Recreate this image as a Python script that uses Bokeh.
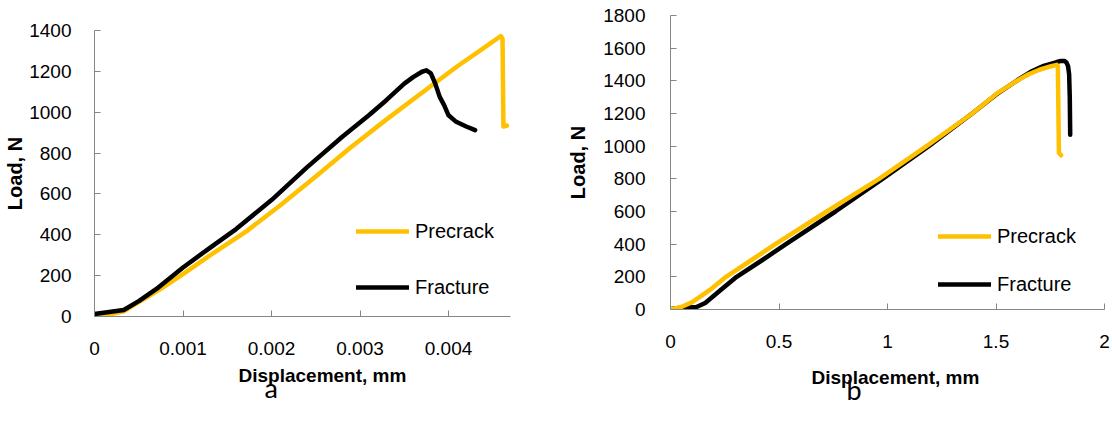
from bokeh.plotting import figure
from bokeh.layouts import row, column
from bokeh.models import (Range1d, FixedTicker, CustomJSTickFormatter, Legend,
                          LegendItem, Title, Spacer)
from bokeh.embed import file_html
from bokeh.resources import INLINE

# ---- Panel a: load vs displacement ----
a_precrack_disp = [0, 0.00015, 0.00033, 0.0005, 0.00074, 0.0010, 0.0013, 0.00172,
                   0.0021, 0.0025, 0.00289, 0.0033, 0.0037, 0.0041, 0.0044,
                   0.00459, 0.00461, 0.00462, 0.00466]
a_precrack_load = [0, 8, 25, 70, 133, 208, 298, 418,
                   545, 685, 826, 965, 1095, 1225, 1315,
                   1373, 1360, 930, 935]
a_fracture_disp = [0, 0.00033, 0.0005, 0.0007, 0.0010, 0.0013, 0.0016, 0.0020,
                   0.0024, 0.0028, 0.0031, 0.0033, 0.0035, 0.0036, 0.0037,
                   0.00375, 0.0038, 0.00385, 0.0039, 0.00395, 0.0040, 0.00408,
                   0.0042, 0.0043]
a_fracture_load = [12, 32, 75, 135, 240, 335, 428, 570,
                   730, 880, 985, 1060, 1140, 1172, 1198,
                   1205, 1190, 1140, 1075, 1035, 985, 955,
                   930, 912]
a_x_ticks = [0, 0.001, 0.002, 0.003, 0.004]
a_y_ticks = [0, 200, 400, 600, 800, 1000, 1200, 1400]

# ---- Panel b: load vs displacement ----
b_precrack_disp = [0, 0.05, 0.10, 0.18, 0.256, 0.37, 0.483, 0.72, 0.961, 1.18,
                   1.39, 1.50, 1.59, 1.65, 1.70, 1.75, 1.78, 1.785, 1.79, 1.80]
b_precrack_load = [0, 15, 45, 118, 200, 300, 400, 600, 800, 1000,
                   1200, 1318, 1395, 1440, 1468, 1488, 1498, 1490, 958, 944]
b_fracture_disp = [0.005, 0.03, 0.06, 0.12, 0.16, 0.23, 0.305, 0.42, 0.532, 0.76,
                   0.977, 1.19, 1.39, 1.50, 1.60, 1.66, 1.72, 1.78, 1.80, 1.815,
                   1.825, 1.832, 1.837, 1.84, 1.842]
b_fracture_load = [3, 8, 12, 15, 40, 118, 200, 300, 400, 600,
                   800, 1000, 1200, 1315, 1405, 1455, 1492, 1515, 1522, 1522,
                   1512, 1490, 1440, 1300, 1070]
b_x_ticks = [0, 0.5, 1, 1.5, 2]
b_y_ticks = [0, 200, 400, 600, 800, 1000, 1200, 1400, 1600, 1800]

GOLD = "#FFC000"
BLACK = "#000000"
AXIS_GREY = "#868686"
FONT = "Liberation Sans"

fmt = CustomJSTickFormatter(code="return String(Math.round(tick * 1e6) / 1e6);")


def make_panel(xp, yp, xf, yf, xticks, yticks, xmax, ymax, borders, frame,
               ystand, ytitle_stand, xtitle_offset, xtitle_standoff,
               tag_offset, tag_standoff,
               legend_loc, legend_spacing, tag, fracture_on_top):
    left, right, top, bottom = borders
    fw, fh = frame
    p = figure(width=left + fw + right, height=top + fh + bottom,
               frame_width=fw, frame_height=fh,
               x_range=Range1d(0, xmax), y_range=Range1d(0, ymax),
               output_backend="svg", toolbar_location=None,
               min_border_left=left, min_border_right=right,
               min_border_top=top, min_border_bottom=bottom)
    p.outline_line_color = None
    p.xgrid.visible = False
    p.ygrid.visible = False
    p.background_fill_color = "white"
    p.border_fill_color = "white"

    style = dict(line_width=4.5, line_cap="round", line_join="round")
    if fracture_on_top:
        rp = p.line(xp, yp, line_color=GOLD, **style)
        rf = p.line(xf, yf, line_color=BLACK, **style)
    else:
        rf = p.line(xf, yf, line_color=BLACK, **style)
        rp = p.line(xp, yp, line_color=GOLD, **style)

    for ax in (p.xaxis[0], p.yaxis[0]):
        ax.axis_line_color = AXIS_GREY
        ax.major_tick_line_color = AXIS_GREY
        ax.major_tick_in = 6
        ax.major_tick_out = 0
        ax.minor_tick_in = 0
        ax.minor_tick_out = 0
        ax.major_label_text_font = FONT
        ax.major_label_text_font_size = "19px"
        ax.major_label_text_color = "#000000"

    p.xaxis[0].ticker = FixedTicker(ticks=xticks)
    p.yaxis[0].ticker = FixedTicker(ticks=yticks)
    p.xaxis[0].formatter = fmt
    p.yaxis[0].formatter = fmt
    p.xaxis[0].major_label_standoff = 25
    p.yaxis[0].major_label_standoff = ystand

    yax = p.yaxis[0]
    yax.axis_label = "Load, N"
    yax.axis_label_standoff = ytitle_stand
    yax.axis_label_text_font = FONT
    yax.axis_label_text_font_size = "20px"
    yax.axis_label_text_font_style = "bold"
    yax.axis_label_text_color = "#000000"

    # x title and panel tag, stacked below the axis
    p.add_layout(Title(text="Displacement, mm", align="left", offset=xtitle_offset,
                       text_font=FONT, text_font_size="19px",
                       text_font_style="bold", text_color="#000000",
                       standoff=xtitle_standoff), "below")
    p.add_layout(Title(text=tag, align="left", offset=tag_offset,
                       vertical_align="top",
                       text_font="Lato", text_font_size="27px",
                       text_font_style="normal", text_color="#000000",
                       standoff=tag_standoff), "below")

    legend = Legend(items=[LegendItem(label="Precrack", renderers=[rp]),
                           LegendItem(label="Fracture", renderers=[rf])],
                    location=legend_loc, glyph_width=53, glyph_height=24,
                    label_height=24, label_standoff=6, spacing=legend_spacing,
                    padding=0, margin=0, border_line_color=None,
                    background_fill_alpha=0,
                    label_text_font=FONT, label_text_font_size="20px",
                    label_text_color="#000000")
    p.add_layout(legend)
    return p


pa = make_panel(a_precrack_disp, a_precrack_load, a_fracture_disp, a_fracture_load,
                a_x_ticks, a_y_ticks, 0.0047, 1400,
                borders=(94, 50, 15, 109), frame=(416, 286),
                ystand=23, ytitle_stand=0, xtitle_offset=144, xtitle_standoff=10,
                tag_offset=170, tag_standoff=-40,
                legend_loc=(262, 17), legend_spacing=32,
                tag="a", fracture_on_top=True)

pb = make_panel(b_precrack_disp, b_precrack_load, b_fracture_disp, b_fracture_load,
                b_x_ticks, b_y_ticks, 2, 1800,
                borders=(110, 8, 15, 109), frame=(434, 294),
                ystand=25, ytitle_stand=11, xtitle_offset=141, xtitle_standoff=28,
                tag_offset=176, tag_standoff=-58,
                legend_loc=(268, 13), legend_spacing=24,
                tag="b", fracture_on_top=False)

layout = row(column(Spacer(height=15, width=560), pa, spacing=0), pb, spacing=0)
open("out.html", "w").write(file_html(layout, INLINE))
